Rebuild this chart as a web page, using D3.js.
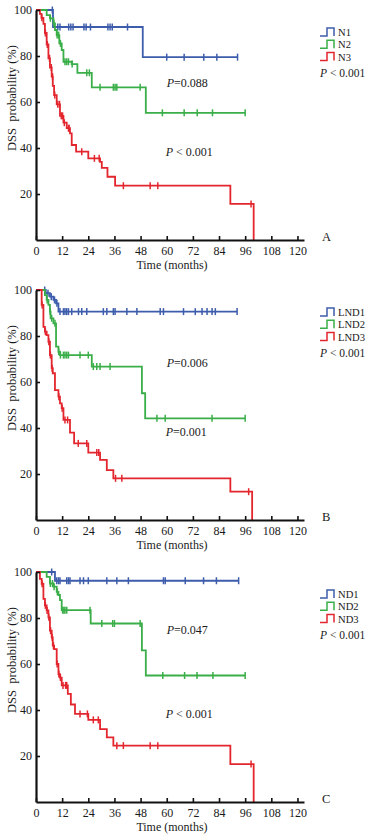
<!DOCTYPE html>
<html><head><meta charset="utf-8">
<script src="https://cdn.jsdelivr.net/npm/d3@7"></script>
<style>
body{margin:0;background:#fff}
svg{display:block}
text{font-family:"Liberation Serif","Times New Roman",serif;fill:#1a1a1a}
</style>
</head><body>
<svg id="c" width="373" height="837"></svg>
<script>
// ---- tick labels / categories ----
const xTicks = [0,12,24,36,48,60,72,84,96,108,120];
const yTicks = [20,40,60,80,100];
const panelLetters = ["A","B","C"];
const groupNames = [["N1","N2","N3"],["LND1","LND2","LND3"],["ND1","ND2","ND3"]];
const overallP = [" < 0.001"," < 0.001"," < 0.001"];
const pairP12 = ["=0.088","=0.006","=0.047"];
const pairP23 = [" < 0.001","=0.001"," < 0.001"];
const seriesColors = ["#3d5cab","#3aae48","#e3262e"];

// ---- Panel A (N stage) ----
const aN1Time = [0,7.8,49,92.5];
const aN1Surv = [100,92.6,79.5,79.5];
const aN1Cens = [7.5,10,11,15,16,17,22,23,25,33,34,35,42,60,68,77,83,92.5];
const aN2Time = [0,4.9,6.4,8,8.7,9.5,10.7,11.8,12.6,16.4,19,25.6,50.4,96];
const aN2Surv = [100,97.8,96.4,94.2,91.3,89.1,85.5,82.6,77.5,76.5,72.7,66.4,55.3,55.3];
const aN2Cens = [6.6,8.2,9.7,10.4,11.2,13.3,14.1,14.9,16.6,23.3,24.5,29.4,35.5,36.3,37.1,47.8,58,68,74,81,96];
const aN3Time = [0,1.8,2.5,3.4,4.1,4.9,5.7,6.4,7.2,7.7,8.3,9.5,11,12.6,14.1,15.6,16.4,18.4,24,29.4,30.2,32.8,36.3,89.2,99.9];
const aN3Surv = [100,98.3,96.6,94,90,85,79,75,71,67,63,59,54,51,48.6,46.4,41.3,38.4,35.5,34,31.4,27.5,23.6,15.7,0];
const aN3Cens = [2.7,4.3,5.2,6.2,7,7.6,8.6,10,10.8,11.6,12.2,13,14.9,15.2,21,26.8,29,40.1,52.4,55.9,98.7];

// ---- Panel B (LND) ----
const bL1Time = [0,4.5,6.4,8,9.2,10.3,92.3];
const bL1Surv = [100,98.6,97.1,95.7,94.2,90.6,90.6];
const bL1Cens = [4,5.5,7,8.5,9.6,11,12.6,13.3,14.1,14.9,16.4,19.5,21,23.3,30.9,32.5,35.5,36.3,41.7,46.3,57,58.5,67.7,73.1,76.2,78.5,80.8,82.3,92.3];
const bL2Time = [0,4.1,4.9,5.7,6.4,6.7,8,9.2,10.3,11,25.6,48.6,50.1,96];
const bL2Surv = [100,97.8,95.7,93.5,90.6,87.7,85.5,75.4,73.2,71.7,66.7,55.1,44.2,44.2];
const bL2Cens = [5.1,6.5,7.2,8.7,10.4,11.2,12.6,13.3,14.1,14.9,20.2,24,26.3,27.9,29.4,34,55.5,59.3,80.8,96];
const bL3Time = [0,2.6,3.4,4.1,4.9,5.7,6.4,7.2,7.7,8.7,10.3,11,11.8,12.6,15.6,17.5,24,29.4,32.5,35.5,89.2,99.2];
const bL3Surv = [100,93.5,84,81.9,80.4,77.5,71.7,66,63.8,56.5,53.6,50.7,48.6,43.5,38,33.3,29.3,26.1,21.7,18.1,12.3,0];
const bL3Cens = [2.8,4.3,5.9,6.6,7.4,10.5,12,13.3,14.5,19.4,23.3,27.9,28.8,36.5,39.4,97.6];

// ---- Panel C (ND) ----
const cD1Time = [0,8.7,93];
const cD1Surv = [100,96.2,96.2];
const cD1Cens = [7.2,9.5,10.3,11,14.1,14.9,15.6,20.2,21.8,24,32.5,37.1,42.4,58.5,59.3,68.5,76.9,82.8,93];
const cD2Time = [0,4.9,6.4,8,9.5,10.3,11,11.8,25.1,48.6,50.4,96];
const cD2Surv = [100,97.9,95,93.6,91.4,90,87.8,83.4,77.6,65.9,55,55];
const cD2Cens = [6.6,7.6,8.3,9.8,12.2,12.8,13.3,14.1,24.8,30.2,35.2,36,47.8,58.2,68.2,73.9,81.2,96];
const cD3Time = [0,1.8,2.6,3.4,4.1,4.9,5.7,6.4,7.2,7.7,8.3,9.5,10.3,11,11.8,14.6,16,17.9,24,29.4,32.5,35.5,89.2,99.9];
const cD3Surv = [100,97,94.9,88.3,85.5,83.3,80.3,74.5,71.6,68,66.5,60,55.6,54.1,50.7,47,42.4,38.3,35.7,31.7,28.1,24.5,16.5,0];
const cD3Cens = [2.8,4.3,5.1,5.9,6.7,7.4,8,9.7,10.5,11.2,12.4,13.6,14.1,20.2,23.6,26.3,28.6,37.1,40.1,52.4,55.9,98.7];

const panels = [
  [[aN1Time,aN1Surv,aN1Cens],[aN2Time,aN2Surv,aN2Cens],[aN3Time,aN3Surv,aN3Cens]],
  [[bL1Time,bL1Surv,bL1Cens],[bL2Time,bL2Surv,bL2Cens],[bL3Time,bL3Surv,bL3Cens]],
  [[cD1Time,cD1Surv,cD1Cens],[cD2Time,cD2Surv,cD2Cens],[cD3Time,cD3Surv,cD3Cens]]
];

// ---- layout ----
const svg = d3.select("#c");
const panelTops = [10, 290, 572];
const plotH = 230;
const x = d3.scaleLinear().domain([0,123]).range([36,304]);

function survAt(times, surv, t){
  const i = d3.bisectRight(times, t) - 1;
  return surv[Math.max(0, i)];
}

panels.forEach((series, pi) => {
  const top = panelTops[pi];
  const y = d3.scaleLinear().domain([0,100]).range([top+plotH, top]);
  const g = svg.append("g");
  const axisY = y(0);

  // series
  series.forEach(([times, surv, cens], si) => {
    const pts = times.map((t,i)=>[t, surv[i]]);
    const line = d3.line().x(d=>x(d[0])).y(d=>y(d[1])).curve(d3.curveStepAfter);
    g.append("path").attr("d", line(pts)).attr("fill","none")
      .attr("stroke", seriesColors[si]).attr("stroke-width",1.8);
    g.selectAll(null).data(cens).enter().append("line")
      .attr("x1", d=>x(d)).attr("x2", d=>x(d))
      .attr("y1", d=>y(survAt(times,surv,d))-3.5)
      .attr("y2", d=>y(survAt(times,surv,d))+3.5)
      .attr("stroke", seriesColors[si]).attr("stroke-width",1.5);
  });

  // axes
  const xa = g.append("g").attr("transform",`translate(0,${axisY})`)
    .call(d3.axisBottom(x).tickValues(xTicks).tickSize(-4).tickSizeOuter(0).tickPadding(6));
  const ya = g.append("g").attr("transform",`translate(${x(0)},0)`)
    .call(d3.axisLeft(y).tickValues(yTicks).tickSize(-4).tickSizeOuter(0).tickPadding(4));
  [xa, ya].forEach(a=>{
    a.select(".domain").attr("stroke","#111").attr("stroke-width",2.2);
    a.selectAll(".tick line").attr("stroke","#111").attr("stroke-width",1.6);
    a.selectAll(".tick text").attr("font-size",12).attr("font-family",'"Liberation Serif",serif').attr("fill","#1a1a1a");
  });

  // axis titles
  g.append("text").attr("x", 172).attr("y", axisY+29).attr("text-anchor","middle")
    .attr("font-size",12).text("Time (months)");
  g.append("text").attr("transform",`translate(16,${top+88}) rotate(-90)`)
    .attr("text-anchor","middle").attr("font-size",12.5).style("white-space","pre")
    .text("DSS  probability (%)");

  // panel letter
  g.append("text").attr("x",322).attr("y",axisY+1).attr("font-size",12.5).text(panelLetters[pi]);

  // legend
  const legTop = top + 22;
  const rowH = 12.3;
  groupNames[pi].forEach((name, si) => {
    const cy = legTop + si*rowH;
    g.append("path")
      .attr("d", `M320,${cy+4}H327V${cy-4}H334V${cy+4}`)
      .attr("fill","none").attr("stroke",seriesColors[si]).attr("stroke-width",1.5);
    g.append("text").attr("x",338).attr("y",cy+4).attr("font-size",10.6).text(name);
  });
  const pt = g.append("text").attr("x",320).attr("y",top+67).attr("font-size",11.5).style("white-space","pre");
  pt.append("tspan").attr("font-style","italic").text("P");
  pt.append("tspan").text(overallP[pi]);

  // pairwise p-values
  const p1 = g.append("text").attr("x", x(60)).attr("y", y(pi===2?73:66.5)).attr("font-size",12).style("white-space","pre");
  p1.append("tspan").attr("font-style","italic").text("P");
  p1.append("tspan").text(pairP12[pi]);
  const p2 = g.append("text").attr("x", x(59.5)).attr("y", y(36.5)).attr("font-size",12).style("white-space","pre");
  p2.append("tspan").attr("font-style","italic").text("P");
  p2.append("tspan").text(pairP23[pi]);
});
</script>
</body></html>
